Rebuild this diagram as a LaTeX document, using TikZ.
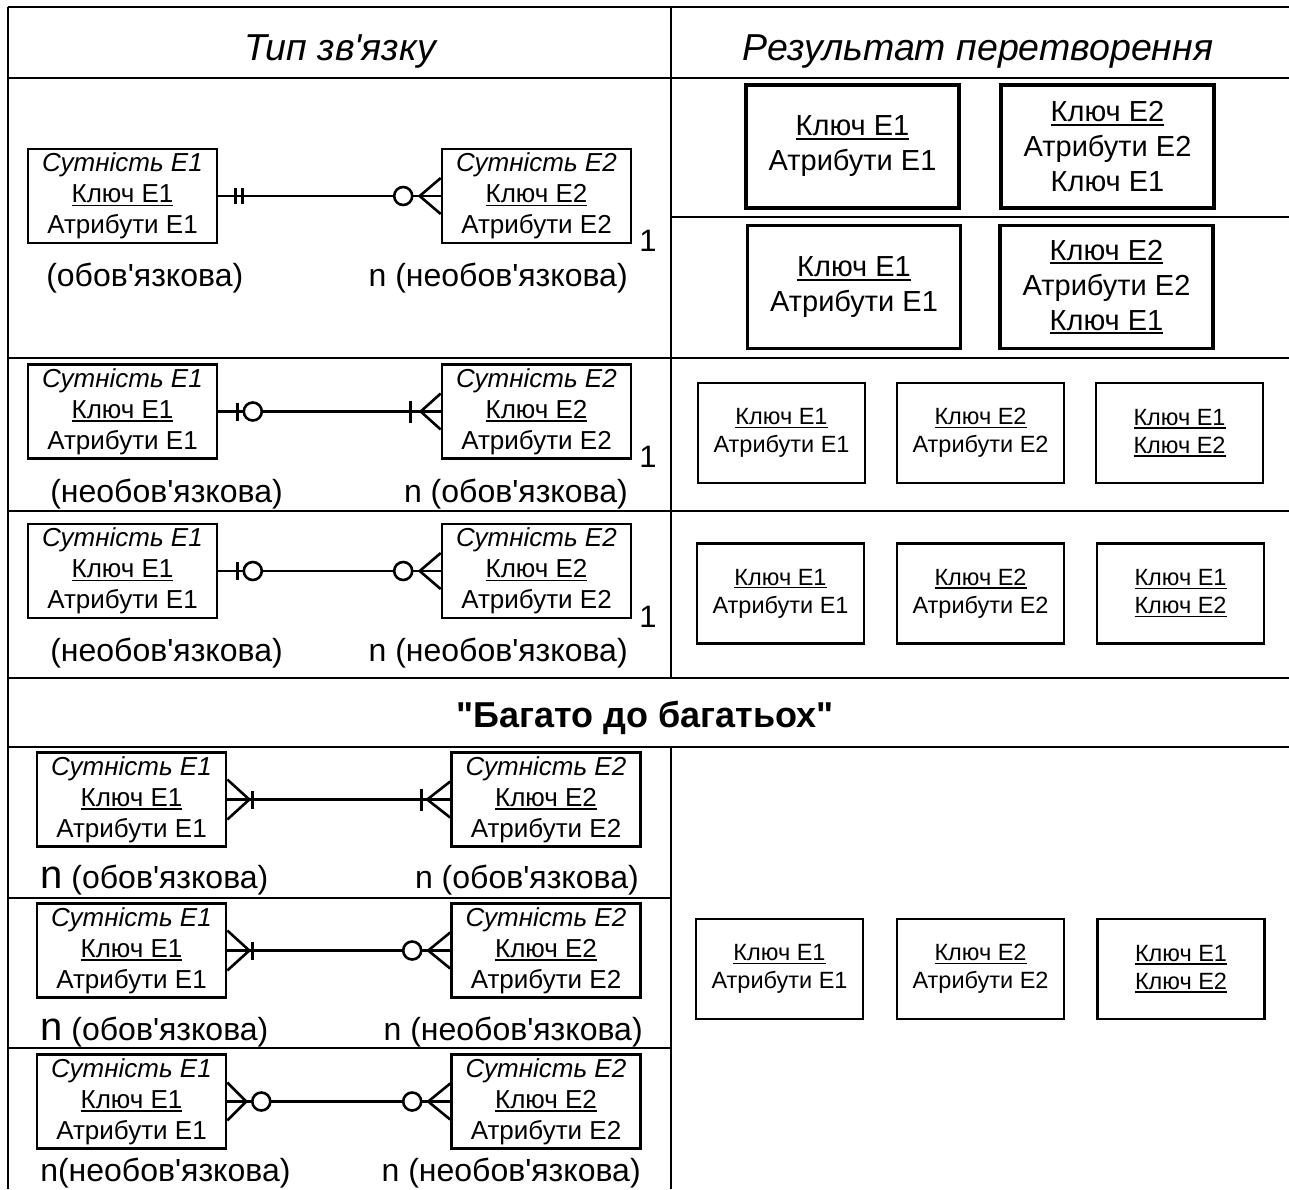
\documentclass[tikz,border=0pt]{standalone}
\usepackage{fontspec}
\setmainfont{Liberation Sans}[Ligatures=TeXOff]
\newcommand\setfs[2]{\fontsize{#1}{#2}\selectfont}
% underlined key attribute
\newcommand\keyline[1]{\setbox0\hbox{#1}\makebox[0pt][l]{\rule[-0.14em]{\wd0}{0.06em}}\box0}
\begin{document}
\begin{tikzpicture}[x=1pt,y=-1pt,line width=2.6pt,
  ent/.style={draw,line width=2.6pt,minimum width=189pt,minimum height=94pt,inner sep=0pt,align=center,font=\setfs{26}{31}},
  resbig/.style={draw,line width=3.4pt,minimum width=213pt,minimum height=123pt,inner sep=0pt,align=center,font=\setfs{29}{35}},
  ressm/.style={draw,line width=2.6pt,minimum width=167pt,minimum height=100pt,inner sep=0pt,align=center,font=\setfs{23.5}{28}},
  lbl/.style={inner sep=0pt,font=\setfs{32}{36}},
  hdr/.style={inner sep=0pt,font=\setfs{37.5}{40}\itshape},
  hdrb/.style={inner sep=0pt,font=\setfs{36}{40}\bfseries},
  one/.style={inner sep=0pt,font=\setfs{31}{32}},
  rel/.style={line width=2.6pt},
  ring/.style={line width=2.6pt,fill=white}]
\useasboundingbox (0,0) rectangle (1289,1189);

% table grid
\draw (8,7) -- (1289,7);
\draw (8,7) -- (8,1189);
\draw (8,78) -- (1289,78);
\draw (671,7) -- (671,678);
\draw (671,217) -- (1289,217);
\draw (8,358) -- (1289,358);
\draw (8,511) -- (1289,511);
\draw (8,678) -- (1289,678);
\draw (8,747) -- (1289,747);
\draw (671,747) -- (671,1189);
\draw (8,898) -- (671,898);
\draw (8,1048) -- (671,1048);

% headings
\node[hdr,anchor=base] (h1) at (340,60) {Тип зв'язку};
\node[hdr,anchor=base] (h2) at (978,60) {Результат перетворення};
\node[hdrb,anchor=base] (h3) at (645,727) {"Багато до багатьох"};

% entity contents
\newcommand\eone{{\itshape Сутність E1}\\\keyline{Ключ E1}\\Атрибути E1}
\newcommand\etwo{{\itshape Сутність E2}\\\keyline{Ключ E2}\\Атрибути E2}

% entity pairs, one-to-many
\node[ent] (a1) at (122.5,196) {\eone};
\node[ent] (a2) at (536.5,196) {\etwo};
\node[ent] (b1) at (122.5,411.5) {\eone};
\node[ent] (b2) at (536.5,411.5) {\etwo};
\node[ent] (c1) at (122.5,571) {\eone};
\node[ent] (c2) at (536.5,571) {\etwo};

% entity pairs, many-to-many
\node[ent] (d1) at (131.5,799.5) {\eone};
\node[ent] (d2) at (546,799.5) {\etwo};
\node[ent] (e1) at (131.5,950.5) {\eone};
\node[ent] (e2) at (546,950.5) {\etwo};
\node[ent] (f1) at (131.5,1101.5) {\eone};
\node[ent] (f2) at (546,1101.5) {\etwo};

% relationship lines
\foreach \p/\q in {a1/a2,b1/b2,c1/c2,d1/d2,e1/e2,f1/f2}
  \draw[rel] (\p.east) -- (\q.west);

% row 1: one mandatory -- many optional
\begin{scope}[shift={(a1.east)}]
  \draw[rel] (17,-8) -- (17,8) (24,-8) -- (24,8);
\end{scope}
\begin{scope}[shift={(a2.west)}]
  \draw[rel] (0,-18) -- (-21,0) -- (0,18);
  \draw[ring] (-37.5,0) circle (9);
\end{scope}
% row 2: one optional -- many mandatory
\begin{scope}[shift={(b1.east)}]
  \draw[rel] (19,-9) -- (19,9);
  \draw[ring] (34.5,0) circle (9);
\end{scope}
\begin{scope}[shift={(b2.west)}]
  \draw[rel] (0,-18) -- (-20,0) -- (0,18);
  \draw[rel] (-30,-11) -- (-30,11);
\end{scope}
% row 3: one optional -- many optional
\begin{scope}[shift={(c1.east)}]
  \draw[rel] (19,-9) -- (19,9);
  \draw[ring] (34.5,0) circle (9);
\end{scope}
\begin{scope}[shift={(c2.west)}]
  \draw[rel] (0,-18) -- (-21,0) -- (0,18);
  \draw[ring] (-37.5,0) circle (9);
\end{scope}
% row 4: many mandatory -- many mandatory
\begin{scope}[shift={(d1.east)}]
  \draw[rel] (0,-20) -- (22,0) -- (0,20);
  \draw[rel] (25,-9) -- (25,9);
\end{scope}
\begin{scope}[shift={(d2.west)}]
  \draw[rel] (0,-18) -- (-23,0) -- (0,18);
  \draw[rel] (-29,-11) -- (-29,11);
\end{scope}
% row 5: many mandatory -- many optional
\begin{scope}[shift={(e1.east)}]
  \draw[rel] (0,-20) -- (22,0) -- (0,20);
  \draw[rel] (25,-9) -- (25,9);
\end{scope}
\begin{scope}[shift={(e2.west)}]
  \draw[rel] (0,-18) -- (-22,0) -- (0,18);
  \draw[ring] (-38,0) circle (9);
\end{scope}
% row 6: many optional -- many optional
\begin{scope}[shift={(f1.east)}]
  \draw[rel] (0,-19) -- (19,0) -- (0,19);
  \draw[ring] (34,0) circle (9);
\end{scope}
\begin{scope}[shift={(f2.west)}]
  \draw[rel] (0,-18) -- (-22,0) -- (0,18);
  \draw[ring] (-38,0) circle (9);
\end{scope}

% cardinality labels
\node[lbl,anchor=base west] (la1) at (45,286) {(обов'язкова)};
\node[lbl,anchor=base east] (la2) at (629,286) {n (необов'язкова)};
\node[one,anchor=base] (na) at (648,251) {1};
\node[lbl,anchor=base west] (lb1) at (49,502) {(необов'язкова)};
\node[lbl,anchor=base east] (lb2) at (629,502) {n (обов'язкова)};
\node[one,anchor=base] (nb) at (648,467) {1};
\node[lbl,anchor=base west] (lc1) at (49,661) {(необов'язкова)};
\node[lbl,anchor=base east] (lc2) at (629,661) {n (необов'язкова)};
\node[one,anchor=base] (nc) at (648,627) {1};
\node[lbl,anchor=base west] (ld1) at (39,888) {{\setfs{40}{40}n} (обов'язкова)};
\node[lbl,anchor=base east] (ld2) at (640,888) {n (обов'язкова)};
\node[lbl,anchor=base west] (le1) at (39,1040) {{\setfs{40}{40}n} (обов'язкова)};
\node[lbl,anchor=base east] (le2) at (644,1040) {n (необов'язкова)};
\node[lbl,anchor=base west] (lf1) at (39,1181) {n(необов'язкова)};
\node[lbl,anchor=base east] (lf2) at (642,1181) {n (необов'язкова)};

% resulting relations
\node[resbig] (ra1) at (852.5,146.5) {\keyline{Ключ E1}\\Атрибути E1};
\node[resbig] (ra2) at (1107.5,146.5) {\keyline{Ключ E2}\\Атрибути E2\\Ключ E1};
\node[resbig] (rb1) at (854,287) {\keyline{Ключ E1}\\Атрибути E1};
\node[resbig] (rb2) at (1106.5,287) {\keyline{Ключ E2}\\Атрибути E2\\\keyline{Ключ E1}};

\node[ressm] (rc1) at (781.5,433) {\keyline{Ключ E1}\\Атрибути E1};
\node[ressm] (rc2) at (980.5,433) {\keyline{Ключ E2}\\Атрибути E2};
\node[ressm] (rc3) at (1179.5,433) {\keyline{Ключ E1}\\\keyline{Ключ E2}};
\node[ressm] (rd1) at (780.5,593.5) {\keyline{Ключ E1}\\Атрибути E1};
\node[ressm] (rd2) at (980.5,593.5) {\keyline{Ключ E2}\\Атрибути E2};
\node[ressm] (rd3) at (1180.5,593.5) {\keyline{Ключ E1}\\\keyline{Ключ E2}};
\node[ressm] (rf1) at (779.5,969) {\keyline{Ключ E1}\\Атрибути E1};
\node[ressm] (rf2) at (980.5,969) {\keyline{Ключ E2}\\Атрибути E2};
\node[ressm] (rf3) at (1181,969) {\keyline{Ключ E1}\\\keyline{Ключ E2}};
\end{tikzpicture}
\end{document}
